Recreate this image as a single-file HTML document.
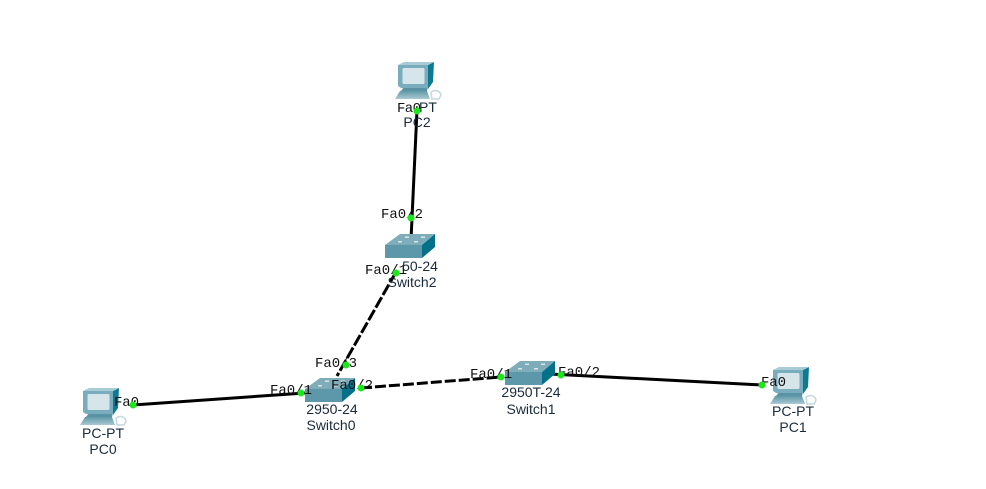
<!DOCTYPE html>
<html>
<head>
<meta charset="utf-8">
<style>
html,body{margin:0;padding:0;background:#fff;width:986px;height:489px;overflow:hidden}
svg{display:block}
.p{font-family:"Liberation Mono",monospace;font-size:14px;fill:#111}
.d{font-family:"Liberation Sans",sans-serif;font-size:14px;fill:#1a2a3a;text-anchor:middle}
</style>
</head>
<body>
<svg width="986" height="489" viewBox="0 0 986 489">
<defs>
<linearGradient id="kb" x1="0" y1="0" x2="0" y2="1">
  <stop offset="0" stop-color="#5f98a8"/>
  <stop offset="1" stop-color="#a9cad3"/>
</linearGradient>
<g id="pc">
  <path d="M36 30 C41 27 45 29 46 33 L44 37 L37 37 Z" fill="none" stroke="#c5d8de" stroke-width="1.5"/>
  <polygon points="5,29 32,29 35,37 0,37" fill="url(#kb)"/>
  <polygon points="9,25 33,25 32,29 6,29" fill="#5a93a4"/>
  <polygon points="33,3 39,0 38,20 33,27" fill="#0e7a92"/>
  <polygon points="3,3 9,0 39,0 33,3" fill="#a9cbd5"/>
  <polygon points="3,3 33,3 33,26 6,26 3,24" fill="#79adbd"/>
  <rect x="7.5" y="6" width="22" height="16" rx="1.5" fill="#d6e5ea"/>
</g>
<g id="sw">
  <polygon points="0,12 15,1 50,1 37,12" fill="#7eacb9"/>
  <polygon points="37,12 50,1 50,14 37,25" fill="#05708a"/>
  <rect x="0" y="12" width="37" height="13" fill="#5d97aa"/>
  <g fill="#d7e7ec">
    <rect x="13" y="8" width="4" height="1.5"/>
    <rect x="29" y="8" width="4" height="1.5"/>
    <rect x="20" y="3.5" width="4" height="1.5"/>
    <rect x="36" y="3.5" width="4" height="1.5"/>
  </g>
</g>
</defs>

<!-- connectors -->
<g stroke="#000" fill="none" stroke-width="3">
  <line x1="417" y1="110" x2="411" y2="240"/>
  <line x1="396" y1="272" x2="337" y2="376" stroke-dasharray="12 2.5"/>
  <line x1="361" y1="388" x2="501" y2="377" stroke-dasharray="11 3"/>
  <line x1="133" y1="405" x2="305" y2="393"/>
  <line x1="550" y1="374" x2="762" y2="385"/>
</g>

<!-- devices -->
<use href="#pc" x="395" y="62"/>
<use href="#pc" x="80" y="388"/>
<use href="#pc" x="770" y="367"/>
<use href="#sw" x="385" y="233"/>
<use href="#sw" x="305" y="377"/>
<use href="#sw" x="505" y="360"/>

<!-- device labels -->
<text class="d" x="428" y="112">PT</text>
<text class="d" x="417" y="127">PC2</text>
<text class="d" x="420" y="271">50-24</text>
<text class="d" x="412" y="287">Switch2</text>
<text class="d" x="332" y="414">2950-24</text>
<text class="d" x="331" y="430">Switch0</text>
<text class="d" x="531" y="397">2950T-24</text>
<text class="d" x="531" y="414">Switch1</text>
<text class="d" x="103" y="438">PC-PT</text>
<text class="d" x="103" y="454">PC0</text>
<text class="d" x="793" y="416">PC-PT</text>
<text class="d" x="793" y="432">PC1</text>

<!-- port labels -->
<text class="p" x="397" y="112" textLength="24">Fa0</text>
<text class="p" x="381" y="218" textLength="42">Fa0/2</text>
<text class="p" x="365" y="274" textLength="42">Fa0/1</text>
<text class="p" x="315" y="367" textLength="42">Fa0/3</text>
<text class="p" x="270" y="394" textLength="42">Fa0/1</text>
<text class="p" x="331" y="389" textLength="42">Fa0/2</text>
<text class="p" x="470" y="378" textLength="42">Fa0/1</text>
<text class="p" x="558" y="376" textLength="42">Fa0/2</text>
<text class="p" x="114" y="406" textLength="25">Fa0</text>
<text class="p" x="761" y="386" textLength="25">Fa0</text>

<!-- link lights -->
<g fill="#1be81b">
  <circle cx="417" cy="111" r="3.5"/>
  <circle cx="411" cy="218" r="3.5"/>
  <circle cx="396" cy="273" r="3.5"/>
  <circle cx="346" cy="365" r="3.5"/>
  <circle cx="301" cy="393" r="3.5"/>
  <circle cx="361" cy="388" r="3.5"/>
  <circle cx="501" cy="377" r="3.5"/>
  <circle cx="561" cy="375" r="3.5"/>
  <circle cx="133" cy="405" r="3.5"/>
  <circle cx="762" cy="385" r="3.5"/>
</g>
</svg>
</body>
</html>
